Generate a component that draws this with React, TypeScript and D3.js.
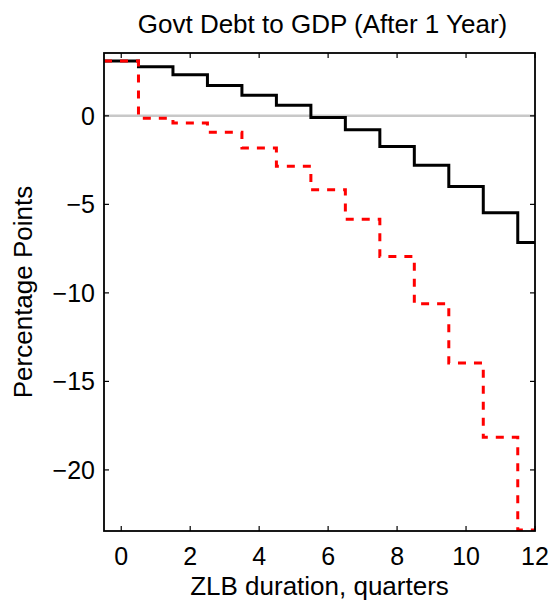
import React from "react";
import * as d3 from "d3";

// Step edges: each value holds from x-0.5 to x+0.5 (first/last clipped at axis limits)
const quarters = [0, 1, 2, 3, 4, 5, 6, 7, 8, 9, 10, 11, 12];
const baseline = [3.1, 2.78, 2.32, 1.71, 1.17, 0.6, -0.1, -0.79, -1.73, -2.79, -3.99, -5.48, -7.16];
const alternative = [3.1, -0.13, -0.41, -0.92, -1.82, -2.84, -4.18, -5.84, -7.95, -10.62, -13.96, -18.15, -23.4];
const xTicks = [0, 2, 4, 6, 8, 10, 12];
const yTicks = [0, -5, -10, -15, -20];
const xDomain = [-0.5, 12];
const yDomain = [-23.45, 3.55];

const W = 555;
const H = 601;
const M = { left: 104, right: 535, top: 53, bottom: 531 };
const FONT = "'Liberation Sans', Arial, Helvetica, sans-serif";

export default function App() {
  const x = d3.scaleLinear().domain(xDomain).range([M.left, M.right]);
  const y = d3.scaleLinear().domain(yDomain).range([M.bottom, M.top]);

  const stepPath = (vals: number[]) => {
    const pts: [number, number][] = [];
    quarters.forEach((q, i) => {
      const x0 = Math.max(q - 0.5, xDomain[0]);
      const x1 = Math.min(q + 0.5, xDomain[1]);
      pts.push([x0, vals[i]]);
      pts.push([x1, vals[i]]);
    });
    return d3
      .line<[number, number]>()
      .x((d) => x(d[0]))
      .y((d) => y(d[1]))(pts) as string;
  };

  const fmt = (v: number) => (v < 0 ? "\u2212" + Math.abs(v) : String(v));
  const tickLen = 5;

  return (
    <svg
      width={W}
      height={H}
      style={{ position: "absolute", left: 0, top: 0, background: "#fff" }}
      fontFamily={FONT}
    >
      <rect x={0} y={0} width={W} height={H} fill="#fff" />
      <defs>
        <clipPath id="plotClip">
          <rect x={M.left} y={M.top} width={M.right - M.left} height={M.bottom - M.top} />
        </clipPath>
      </defs>
      <g clipPath="url(#plotClip)">
        <line x1={x(xDomain[0])} x2={x(xDomain[1])} y1={y(0)} y2={y(0)} stroke="#c8c8c8" strokeWidth={2.5} />
        <path d={stepPath(baseline)} fill="none" stroke="#000" strokeWidth={3} />
        <path
          d={stepPath(alternative)}
          fill="none"
          stroke="#ff0000"
          strokeWidth={3}
          strokeDasharray="8,8"
        />
      </g>
      {/* frame */}
      <rect
        x={M.left}
        y={M.top}
        width={M.right - M.left}
        height={M.bottom - M.top}
        fill="none"
        stroke="#000"
        strokeWidth={1.8}
      />
      {/* x ticks */}
      {xTicks.map((t) => (
        <g key={"x" + t}>
          <line x1={x(t)} x2={x(t)} y1={M.bottom} y2={M.bottom - tickLen} stroke="#000" strokeWidth={1.2} />
          <line x1={x(t)} x2={x(t)} y1={M.top} y2={M.top + tickLen} stroke="#000" strokeWidth={1.2} />
          <text x={x(t)} y={565} textAnchor="middle" fontSize={25} fill="#000">
            {fmt(t)}
          </text>
        </g>
      ))}
      {/* y ticks */}
      {yTicks.map((t) => (
        <g key={"y" + t}>
          <line x1={M.left} x2={M.left + tickLen} y1={y(t)} y2={y(t)} stroke="#000" strokeWidth={1.2} />
          <line x1={M.right} x2={M.right - tickLen} y1={y(t)} y2={y(t)} stroke="#000" strokeWidth={1.2} />
          <text x={95} y={y(t)} dy="0.36em" textAnchor="end" fontSize={25} fill="#000">
            {fmt(t)}
          </text>
        </g>
      ))}
      <text x={(M.left + M.right) / 2 + 3} y={32.5} textAnchor="middle" fontSize={26} fill="#000">
        Govt Debt to GDP (After 1 Year)
      </text>
      <text x={(M.left + M.right) / 2} y={595} textAnchor="middle" fontSize={26} fill="#000">
        ZLB duration, quarters
      </text>
      <text
        transform={`translate(32, ${(M.top + M.bottom) / 2}) rotate(-90)`}
        textAnchor="middle"
        fontSize={26}
        fill="#000"
      >
        Percentage Points
      </text>
    </svg>
  );
}
